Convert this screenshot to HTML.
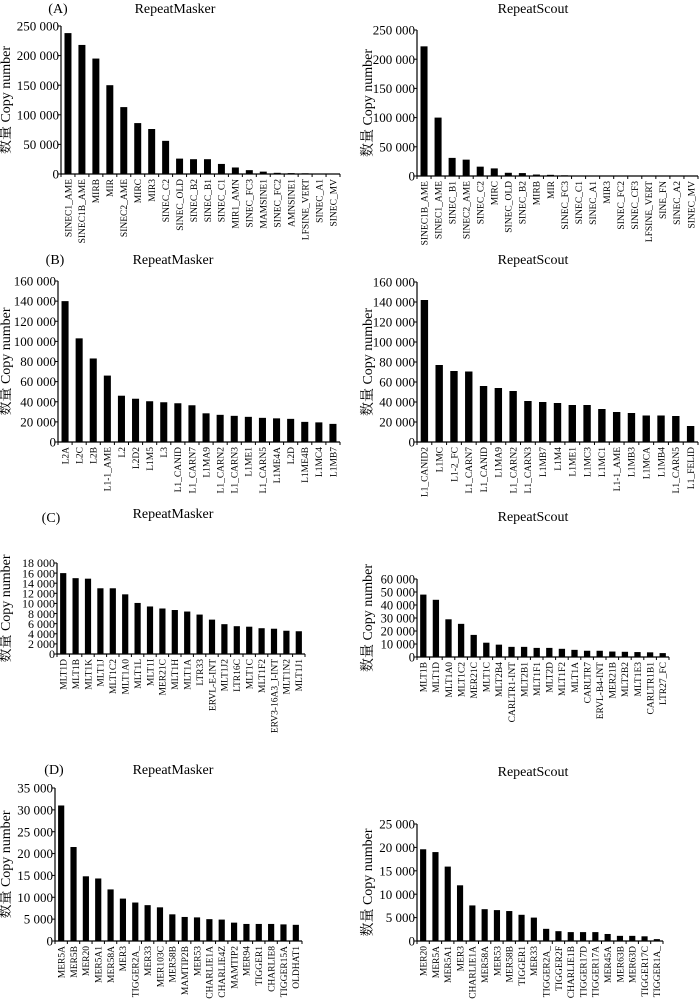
<!DOCTYPE html>
<html><head><meta charset="utf-8"><style>
html,body{margin:0;padding:0;background:#fff;}
svg{display:block;font-family:"Liberation Serif","Noto Serif CJK SC",serif;}
</style></head><body>
<svg id="fig" width="700" height="999" viewBox="0 0 700 999" xmlns="http://www.w3.org/2000/svg"></svg>
<script>
const catsAL=["SINEC1_AME","SINEC1B_AME","MIRB","MIR","SINEC2_AME","MIRC","MIR3","SINEC_C2","SINEC_OLD","SINEC_B2","SINEC_B1","SINEC_C1","MIR1_AMN","SINEC_FC3","MAMSINE1","SINEC_FC2","AMNSINE1","LFSINE_VERT","SINEC_A1","SINEC_MV"];
const valsAL=[238000,218000,195000,150000,113000,86000,76000,56000,26000,25000,25000,17000,11000,6500,4000,2000,1500,1200,700,300];
const catsAR=["SINEC1B_AME","SINEC1_AME","SINEC_B1","SINEC2_AME","SINEC_C2","MIRC","SINEC_OLD","SINEC_B2","MIRB","MIR","SINEC_FC3","SINEC_C1","SINEC_A1","MIR3","SINEC_FC2","SINEC_CF3","LFSINE_VERT","SINE_FN","SINEC_A2","SINEC_MV"];
const valsAR=[222000,100000,31000,28000,16000,13000,5500,5000,2500,2000,1200,300,200,150,100,100,80,60,50,40];
const catsBL=["L2A","L2C","L2B","L1-1_AME","L2","L2D2","L1M5","L3","L1_CANID","L1_CARN7","L1MA9","L1_CARN2","L1_CARN3","L1ME1","L1_CARN5","L1ME4A","L2D","L1ME4B","L1MC4","L1MB7"];
const valsBL=[140000,103000,83000,66000,46000,43000,40500,39500,38500,36500,28500,27000,26000,25000,24000,23500,23000,20000,19500,18000];
const catsBR=["L1_CANID2","L1MC","L1-2_FC","L1_CARN7","L1_CANID","L1MA9","L1_CARN2","L1_CARN3","L1MB7","L1M4","L1ME1","L1MC3","L1MC1","L1-1_AME","L1MB3","L1MCA","L1MB4","L1_CARN5","L1_FELID"];
const valsBR=[142000,77000,71000,70500,56000,54000,51000,41000,40000,39000,37000,37000,33000,30000,29000,26500,26500,26000,16000];
const catsCL=["MLT1D","MLT1B","MLT1K","MLT1J","MLT1C2","MLT1A0","MLT1L","MLT1I","MER21C","MLT1H","MLT1A","LTR33","ERVL-E-INT","MLT1J2","LTR16C","MLT1C","MLT1F2","ERV3-16A3_I-INT","MLT1N2","MLT1J1"];
const valsCL=[16000,15000,14900,13000,13000,11800,10100,9400,9000,8700,8400,7800,6800,5900,5500,5400,5100,5000,4600,4500];
const catsCR=["MLT1B","MLT1D","MLT1A0","MLT1C2","MER21C","MLT1C","MLT2B4","CARLTR1-INT","MLT2B1","MLT1F1","MLT2D","MLT1F2","MLT1A","CARLTR7","ERVL-B4-INT","MER21B","MLT2B2","MLT1E3","CARLTR1B1","LTR27_FC"];
const valsCR=[48000,44000,29000,25500,17000,11000,9500,7800,7800,7000,7000,6300,5500,4800,4800,4200,4000,3800,3600,3000];
const catsDL=["MER5A","MER5B","MER20","MER5A1","MER58A","MER3","TIGGER2A_","MER33","MER103C","MER58B","MAMTIP2B","MER53","CHARLIE1A","CHARLIE4Z","MAMTIP2","MER94","TIGGER1","CHARLIE8","TIGGER15A","OLDHAT1"];
const valsDL=[31000,21500,14800,14300,11800,9700,8800,8200,7700,6100,5500,5400,5000,4900,4200,3900,3900,3900,3800,3700];
const catsDR=["MER20","MER5A","MER5A1","MER3","CHARLIE1A","MER58A","MER53","MER58B","TIGGER1","MER33","TIGGER2A_","TIGGER2F","CHARLIE1B","TIGGER17D","TIGGER17A","MER45A","MER63B","MER63D","TIGGER17C","TIGGER1A_"];
const valsDR=[19600,19000,15900,11900,7600,6800,6600,6400,5600,5000,2600,2100,1900,1900,1900,1500,1100,1100,1000,400];
const ticksA=[0,50000,100000,150000,200000,250000];
const ticksB=[0,20000,40000,60000,80000,100000,120000,140000,160000];
const ticksCL=[0,2000,4000,6000,8000,10000,12000,14000,16000,18000];
const ticksCR=[0,10000,20000,30000,40000,50000,60000];
const ticksDL=[0,5000,10000,15000,20000,25000,30000,35000];
const ticksDR=[0,5000,10000,15000,20000,25000];

const NS="http://www.w3.org/2000/svg";
const svg=document.getElementById('fig');
function mk(tag,attrs,parent){const e=document.createElementNS(NS,tag);for(const k in attrs)e.setAttribute(k,attrs[k]);(parent||svg).appendChild(e);return e;}
function fmt(v){return v===0?"0":String(v).replace(/\B(?=(\d{3})+(?!\d))/g," ");}

function panel(id,cats,vals,ticks,x0,x1,y0,yT,tfs,ylx,title,tx,ty,letter,lx,ly){
  const g=mk('g',{});
  
  
  const max=ticks[ticks.length-1];
  const y=v=>y0-v/max*(y0-yT);
  const n=cats.length, slot=(x1-x0)/n, bw=slot*0.5;
  const xc=i=>x0+slot*(i+0.5);
  const t=mk('text',{x:tx,y:ty,'font-size':14,'text-anchor':'middle'},g);t.textContent=title;
  
  
  if(letter){const l=mk('text',{x:lx,y:ly,'font-size':14,'text-anchor':'middle'},g);l.textContent=letter;
    
    }
  const ax=mk('path',{d:`M${x0},${yT} V${y0} H${x1}`,stroke:'#000','stroke-width':1.2,fill:'none'},g);
  
  
  ticks.forEach(v=>{
    mk('line',{x1:x0-3,x2:x0,y1:y(v),y2:y(v),stroke:'#000','stroke-width':1},g);
    const tl=mk('text',{x:x0-2,y:y(v)+tfs*0.35,'font-size':tfs,'text-anchor':'end'},g);tl.textContent=fmt(v);
    
    
  });
  for(let i=0;i<=n;i++)mk('line',{x1:x0+slot*i,x2:x0+slot*i,y1:y0,y2:y0+3,stroke:'#000','stroke-width':1},g);
  cats.forEach((c,i)=>{
    const r=mk('rect',{x:xc(i)-bw/2,y:y(vals[i]),width:bw,height:y0-y(vals[i]),fill:'#000'},g);
    
    
    const lb=mk('text',{x:0,y:0,'font-size':9.5,'text-anchor':'end',transform:`translate(${xc(i)+3.3},${y0+5}) rotate(-90)`},g);lb.textContent=c;
    
    
  });
  const yl=mk('text',{x:0,y:0,'font-size':14,'text-anchor':'middle',transform:`translate(${ylx},${(y0+yT)/2}) rotate(-90)`},g);yl.textContent="数量 Copy number";
  
  
}
panel('a-repeatmasker',catsAL,valsAL,ticksA,61,340,174,26,13,10,'RepeatMasker',175,13,'(A)',58,13);
panel('a-repeatscout',catsAR,valsAR,ticksA,417,698,176,30,13,372,'RepeatScout',533,13,null);
panel('b-repeatmasker',catsBL,valsBL,ticksB,58,340,442,281,13,10,'RepeatMasker',173,264,'(B)',55,264);
panel('b-repeatscout',catsBR,valsBR,ticksB,417,698,442,282,13,372,'RepeatScout',533,264,null);
panel('c-repeatmasker',catsCL,valsCL,ticksCL,57,305,654,563,12,10,'RepeatMasker',173,518,'(C)',51,522);
panel('c-repeatscout',catsCR,valsCR,ticksCR,417,669,657,579,12.5,372,'RepeatScout',533,521,null);
panel('d-repeatmasker',catsDL,valsDL,ticksDL,55,302,941,788,13,10,'RepeatMasker',173,774,'(D)',54,774);
panel('d-repeatscout',catsDR,valsDR,ticksDR,417,663,941,824,13,372,'RepeatScout',533,776,null);
</script>
</body></html>
